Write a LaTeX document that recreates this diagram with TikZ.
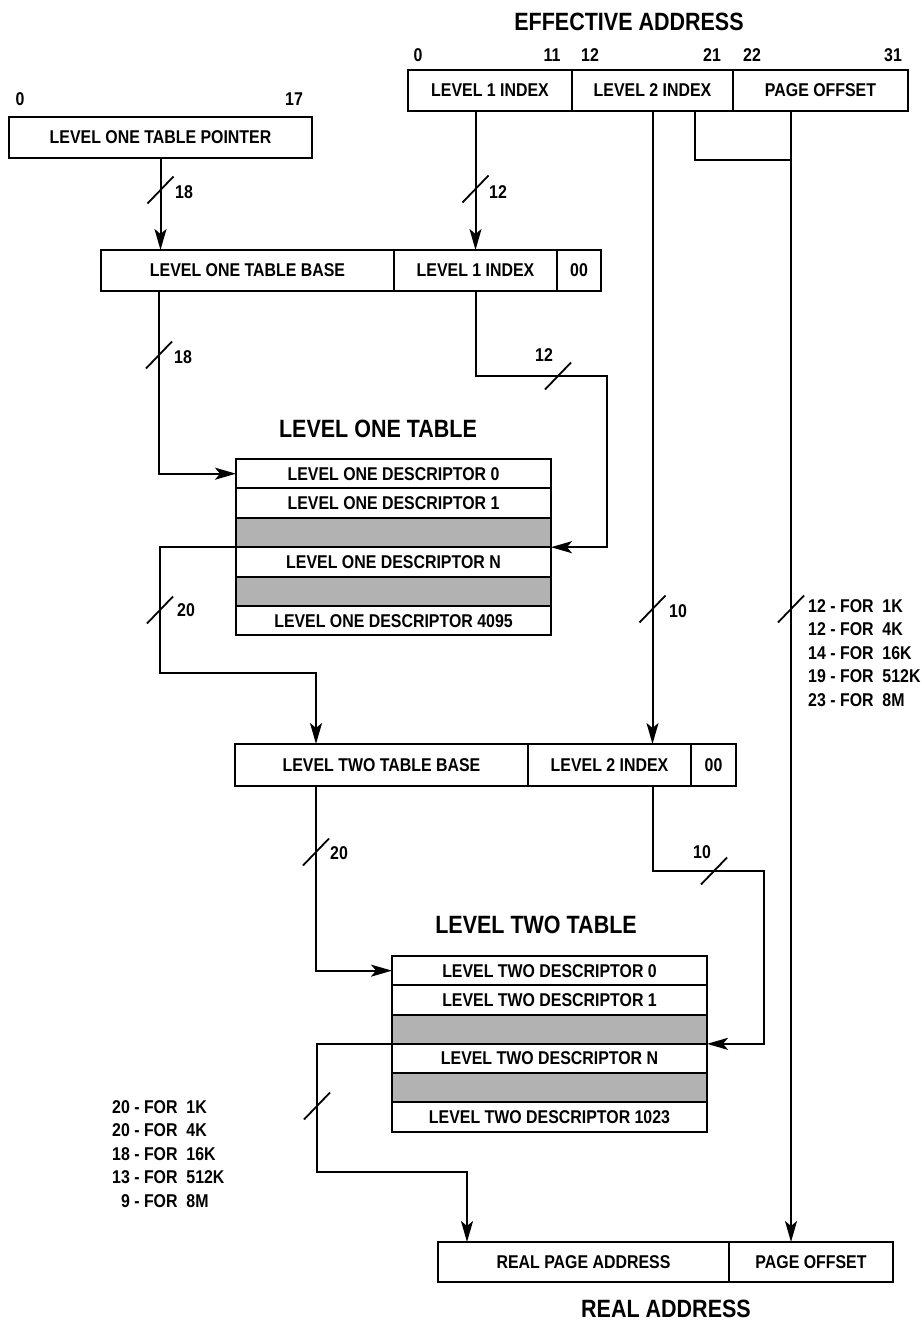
\documentclass[tikz,border=0pt]{standalone}
\usepackage{fontspec}
\setmainfont{Liberation Sans}[FakeStretch=0.86]
\usetikzlibrary{arrows.meta}
\definecolor{shade}{HTML}{B2B2B2}
\newcommand\slashat[2]{\draw[slashmark] (#1-13,#2+13.5) -- (#1+13,#2-13.5);}
\begin{document}
\begin{tikzpicture}[x=1pt,y=-1pt,
  every node/.style={font=\bfseries\fontsize{18.5}{23.5}\selectfont, inner sep=0pt},
  cell/.style={draw, line width=2pt, outer sep=0pt, fill=white},
  row/.style={cell, minimum width=315pt, minimum height=29.4pt},
  shaded/.style={row, fill=shade},
  title/.style={font=\bfseries\fontsize{25}{30}\selectfont},
  conn/.style={line width=2pt},
  arr/.style={conn, -{Stealth[length=21pt,width=12pt,inset=5pt]}},
  slashmark/.style={line width=1.8pt},
  num/.style={anchor=center}
]
\useasboundingbox (0,0) rectangle (923,1321);

% titles
\node[title] (eat) at (629,22) {EFFECTIVE ADDRESS};
\node[title] (l1t) at (378,429) {LEVEL ONE TABLE};
\node[title] (l2t) at (536,925) {LEVEL TWO TABLE};
\node[title] (rat) at (666,1309) {REAL ADDRESS};

% effective address
\node[cell, minimum width=164pt, minimum height=41pt] (ea1) at (490,90.5) {LEVEL 1 INDEX};
\node[cell, minimum width=161pt, minimum height=41pt] (ea2) at (652.5,90.5) {LEVEL 2 INDEX};
\node[cell, minimum width=175pt, minimum height=41pt] (ea3) at (820.5,90.5) {PAGE OFFSET};
\node[num] (b0) at (418,55) {0};
\node[num] (b11) at (552,55) {11};
\node[num] (b12) at (590,55) {12};
\node[num] (b21) at (712,55) {21};
\node[num] (b22) at (752,55) {22};
\node[num] (b31) at (893,55) {31};

% pointer
\node[cell, minimum width=303pt, minimum height=41pt] (ptr) at (160.5,137.5) {LEVEL ONE TABLE POINTER};
\node[num] (p0) at (20,99) {0};
\node[num] (p17) at (294,99) {17};

% level one base
\node[cell, minimum width=293pt, minimum height=41pt] (lotb) at (247.5,270.5) {LEVEL ONE TABLE BASE};
\node[cell, minimum width=163pt, minimum height=41pt] (l1i) at (475.5,270.5) {LEVEL 1 INDEX};
\node[cell, minimum width=44pt, minimum height=41pt] (z1) at (579,270.5) {00};

% level one table
\node[row] (lot0) at (393.5,473.7) {LEVEL ONE DESCRIPTOR 0};
\node[row] (lot1) at (393.5,503.1) {LEVEL ONE DESCRIPTOR 1};
\node[shaded] (lotg1) at (393.5,532.5) {};
\node[row] (lotN) at (393.5,561.9) {LEVEL ONE DESCRIPTOR N};
\node[shaded] (lotg2) at (393.5,591.3) {};
\node[row] (lotL) at (393.5,620.7) {LEVEL ONE DESCRIPTOR 4095};

% level two base
\node[cell, minimum width=293pt, minimum height=42pt] (l2b) at (381.5,765) {LEVEL TWO TABLE BASE};
\node[cell, minimum width=163pt, minimum height=42pt] (l2i) at (609.5,765) {LEVEL 2 INDEX};
\node[cell, minimum width=45pt, minimum height=42pt] (z2) at (713.5,765) {00};

% level two table
\node[row] (ltt0) at (549.5,970.65) {LEVEL TWO DESCRIPTOR 0};
\node[row] (ltt1) at (549.5,999.95) {LEVEL TWO DESCRIPTOR 1};
\node[shaded] (lttg1) at (549.5,1029.25) {};
\node[row] (lttN) at (549.5,1058.55) {LEVEL TWO DESCRIPTOR N};
\node[shaded] (lttg2) at (549.5,1087.85) {};
\node[row] (lttL) at (549.5,1117.15) {LEVEL TWO DESCRIPTOR 1023};

% real address
\node[cell, minimum width=291pt, minimum height=40pt] (rpa) at (583.5,1262) {REAL PAGE ADDRESS};
\node[cell, minimum width=164pt, minimum height=40pt] (rpo) at (811,1262) {PAGE OFFSET};

% connectors
\draw[arr] (ptr.south) -- (ptr.south |- lotb.north);
\draw[arr] (l1i.north |- ea1.south) -- (l1i.north);
\draw[arr] ([xshift=-88.5pt]lotb.south) |- (lot0.west);
\draw[arr] (l1i.south) -- ++(0,85) -| ([xshift=56pt]lotN.north east) -- (lotN.north east);
\draw[arr] (lotN.north west) -- ++(-76,0) -- ++(0,126) -| ([xshift=-65.5pt]l2b.north);
\draw[arr] (ea2.south) -- (ea2.south |- l2i.north);
\coordinate (pj) at ([xshift=-29.5pt]ea3.south);
\draw[conn] ([xshift=42.5pt]ea2.south) -- ++(0,49) -| (pj);
\draw[arr] (pj) -- (pj |- rpo.north);
\draw[arr] ([xshift=-65.5pt]l2b.south) |- (ltt0.west);
\draw[arr] (ea2.south |- l2i.south) -- ++(0,85) -| ([xshift=57pt]lttN.north east) -- (lttN.north east);
\draw[arr] (lttN.north west) -- ++(-75,0) -- ++(0,128) -| ([xshift=-116.5pt]rpa.north);

% slash marks
\slashat{160.5}{190}
\slashat{475.5}{189}
\slashat{159}{355}
\slashat{558}{376}
\slashat{160}{610}
\slashat{652.5}{609}
\slashat{791}{609}
\slashat{316}{852}
\slashat{714}{871}
\slashat{317}{1106}

% width labels
\node[num] (w18a) at (184,192) {18};
\node[num] (w12a) at (498,192) {12};
\node[num] (w18b) at (183,357) {18};
\node[num] (w12b) at (544,355) {12};
\node[num] (w20a) at (186,610) {20};
\node[num] (w10a) at (678,611) {10};
\node[num] (w20b) at (339,853) {20};
\node[num] (w10b) at (702,852) {10};

\node[anchor=north west, align=left] (poff) at (808,599)
  {12 - FOR\ \ 1K\\12 - FOR\ \ 4K\\14 - FOR\ \ 16K\\19 - FOR\ \ 512K\\23 - FOR\ \ 8M};
\node[anchor=north west, align=left] (rpal) at (112,1100)
  {20 - FOR\ \ 1K\\20 - FOR\ \ 4K\\18 - FOR\ \ 16K\\13 - FOR\ \ 512K\\\phantom{0}9 - FOR\ \ 8M};
\end{tikzpicture}
\end{document}
